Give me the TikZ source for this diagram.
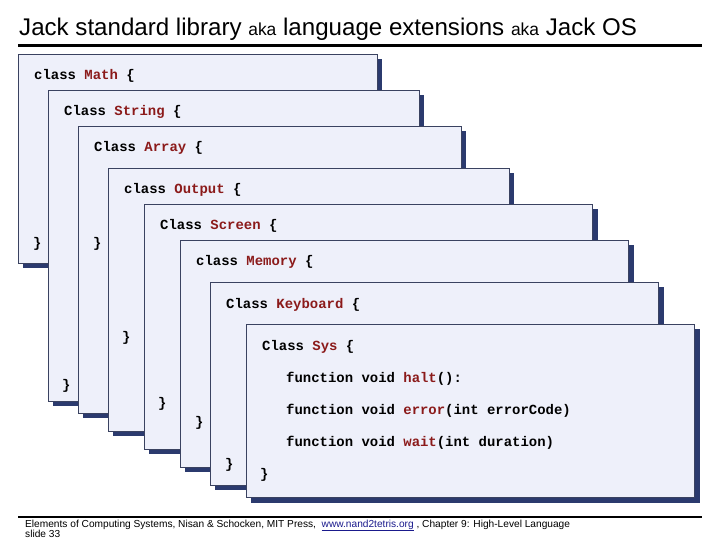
\documentclass[tikz,border=0pt]{standalone}
\usepackage{fontspec}
\setmainfont{Liberation Sans}
\newfontfamily\codefont{Liberation Mono}
\definecolor{boxfill}{HTML}{EEF0FA}
\definecolor{boxline}{HTML}{3A4260}
\definecolor{shad}{HTML}{2B3A6E}
\definecolor{kw}{HTML}{8B1A1A}
\definecolor{urlblue}{HTML}{1A1A8C}
\tikzset{
  cbox/.style={draw=boxline,line width=1bp,fill=boxfill,anchor=north west,inner sep=0pt},
  cshadow/.style={fill=shad,draw=none,anchor=north west,inner sep=0pt},
  code/.style={anchor=base west,inner sep=0pt,font=\codefont\bfseries\fontsize{14}{15}\selectfont},
}
\newcommand{\kwd}[1]{\textcolor{kw}{#1}}
\newcommand{\mkbox}[6]{% name, x1,y1,x2,y2
  \node[cshadow,minimum width=#4-#2,minimum height=#5-#3] (#1s) at (#2+5,#3+5) {};
  \node[cbox,minimum width=#4-#2,minimum height=#5-#3] (#1) at (#2,#3) {};
}
\begin{document}
\begin{tikzpicture}[x=1bp,y=-1bp]
\useasboundingbox (0,0) rectangle (720,540);
\node[anchor=base west,inner sep=0pt,font=\fontsize{24.2}{26}\selectfont] (title) at (19,36)
  {Jack standard library {\fontsize{17.5}{18}\selectfont aka} language extensions {\fontsize{17.5}{18}\selectfont aka} Jack OS};
\draw[line width=3bp] (18,46) -- (702,46);
\mkbox{math}{18}{54}{378}{264}{}
\mkbox{string}{48}{90}{420}{402}{}
\mkbox{array}{78}{126}{462}{414}{}
\mkbox{output}{108}{168}{510}{432}{}
\mkbox{screen}{144}{204}{594}{450}{}
\mkbox{memory}{180}{240}{630}{468}{}
\mkbox{keyboard}{210}{282}{660}{486}{}
\mkbox{sys}{246}{324}{696}{498}{}
\node[code] (t1) at (34,80) {class \kwd{Math} \{};
\node[code] (t2) at (64,116) {Class \kwd{String} \{};
\node[code] (t3) at (94,152) {Class \kwd{Array} \{};
\node[code] (t4) at (124,194) {class \kwd{Output} \{};
\node[code] (t5) at (160,230) {Class \kwd{Screen} \{};
\node[code] (t6) at (196,266) {class \kwd{Memory} \{};
\node[code] (t7) at (226,308) {Class \kwd{Keyboard} \{};
\node[code] (t8) at (262,350) {Class \kwd{Sys} \{};
\node[code] (f1) at (286,382) {function void \kwd{halt}():};
\node[code] (f2) at (286,414) {function void \kwd{error}(int errorCode)};
\node[code] (f3) at (286,446) {function void \kwd{wait}(int duration)};
\node[code] (c1) at (33,248) {\}};
\node[code] (c3) at (93,248) {\}};
\node[code] (c2) at (62,389) {\}};
\node[code] (c4) at (122,341) {\}};
\node[code] (c5) at (158,407) {\}};
\node[code] (c6) at (195,426) {\}};
\node[code] (c7) at (225,468) {\}};
\node[code] (c8) at (260,478) {\}};
\draw[line width=2bp] (18,517) -- (702,517);
\node[anchor=base west,inner sep=0pt,font=\fontsize{10.2}{12}\selectfont] (foot) at (25,527)
  {Elements of Computing Systems, Nisan \& Schocken, MIT Press, \ \textcolor{urlblue}{\underline{www.nand2tetris.org}} , Chapter 9: High-Level Language};
\node[anchor=base west,inner sep=0pt,font=\fontsize{10.2}{12}\selectfont] (slide) at (25,537) {slide 33};
\end{tikzpicture}
\end{document}
